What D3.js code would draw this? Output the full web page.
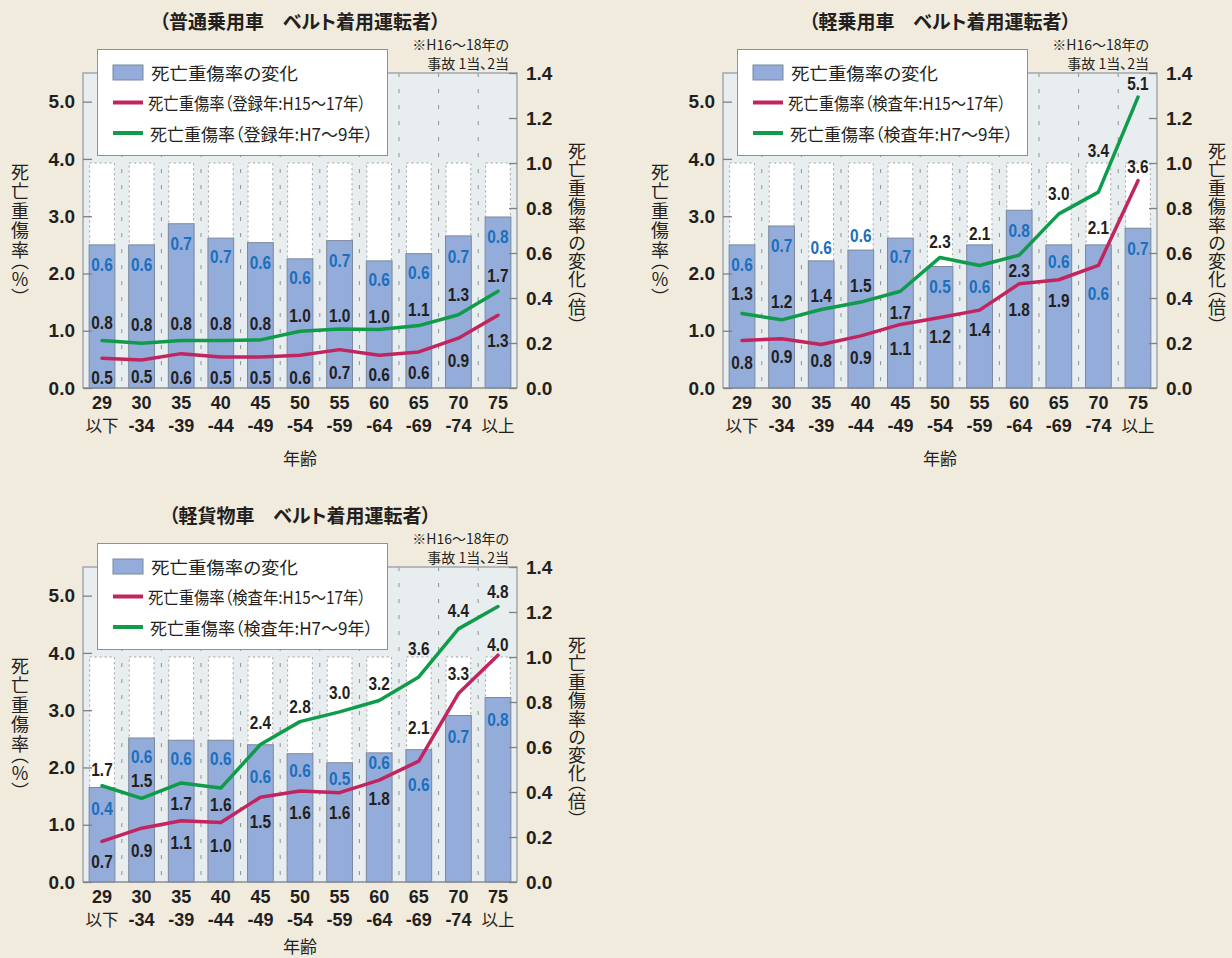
<!DOCTYPE html>
<html><head><meta charset="utf-8">
<script src="https://cdn.jsdelivr.net/npm/d3@7"></script>
<style>
html,body{margin:0;padding:0;background:#f1ebdd;}
svg{display:block;}
.jp{font-family:"Noto Sans CJK JP","Noto Sans CJK SC",sans-serif;font-feature-settings:"palt";}
.num{font-family:"Liberation Sans",Arial,sans-serif;font-weight:700;}
.vt{font-family:"Noto Sans CJK JP","Noto Sans CJK SC",sans-serif;writing-mode:vertical-rl;font-feature-settings:"vpal";}
</style></head><body>
<svg id="chart" width="1232" height="958"></svg>
<script>
// ---------- shared data ----------
const categories = ["29","30","35","40","45","50","55","60","65","70","75"];
const categorySub = ["以下","-34","-39","-44","-49","-54","-59","-64","-69","-74","以上"];
const leftTicks = [0,1,2,3,4,5];
const rightTicks = [0,0.2,0.4,0.6,0.8,1.0,1.2,1.4];
const leftDomain = [0,5.5];
const rightDomain = [0,1.4];
const ratioReference = 1.0;
const xTitle = "年齢";
const leftTitle = "死亡重傷率（％）";
const rightTitle = "死亡重傷率の変化（倍）";
const noteLines = ["※H16〜18年の","事故 1当、2当"];
const legendBar = "死亡重傷率の変化";

// ---------- panel 1: 普通乗用車 ----------
const p1Title = "（普通乗用車　ベルト着用運転者）";
const p1LegendRed = "死亡重傷率（登録年:H15〜17年）";
const p1LegendGreen = "死亡重傷率（登録年:H7〜9年）";
const p1Ratio = [0.636,0.636,0.73,0.666,0.646,0.574,0.655,0.565,0.597,0.676,0.76];
const p1Red   = [0.52,0.49,0.60,0.54,0.54,0.57,0.67,0.57,0.63,0.87,1.27];
const p1Green = [0.83,0.78,0.83,0.83,0.84,0.99,1.03,1.02,1.09,1.28,1.69];

// ---------- panel 2: 軽乗用車 ----------
const p2Title = "（軽乗用車　ベルト着用運転者）";
const p2LegendRed = "死亡重傷率（検査年:H15〜17年）";
const p2LegendGreen = "死亡重傷率（検査年:H7〜9年）";
const p2Ratio = [0.636,0.72,0.565,0.613,0.666,0.54,0.636,0.79,0.636,0.636,0.71];
const p2Red   = [0.83,0.86,0.76,0.91,1.11,1.23,1.36,1.82,1.89,2.14,3.62];
const p2Green = [1.30,1.19,1.37,1.50,1.69,2.28,2.14,2.32,3.04,3.42,5.08];

// ---------- panel 3: 軽貨物車 ----------
const p3Title = "（軽貨物車　ベルト着用運転者）";
const p3LegendRed = "死亡重傷率（検査年:H15〜17年）";
const p3LegendGreen = "死亡重傷率（検査年:H7〜9年）";
const p3Ratio = [0.42,0.64,0.63,0.63,0.61,0.57,0.53,0.574,0.588,0.74,0.82];
const p3Red   = [0.71,0.94,1.07,1.04,1.48,1.59,1.56,1.78,2.11,3.29,3.96];
const p3Green = [1.68,1.46,1.73,1.64,2.40,2.80,2.97,3.17,3.58,4.42,4.81];

// ---------- label placement (pixel offsets from mark) ----------
const p1BlueDy  = [20,20,20,19,20,19,20,19,19,21,20];
const p1GreenDy = [-18,-19,-17,-17,-16,-16,-13,-13,-16,-20,-16];
const p1RedDy   = [19,17,24,21,21,22,23,19,21,23,25];
const p2BlueDy  = [20,20,-13,-14,19,20,42,20,17,49,20];
const p2GreenDy = [-20,-18,-14,-16,21,-16,-32,16,-20,-41,-13];
const p2RedDy   = [22,18,16,22,24,19,20,26,21,-38,-14];
const p3BlueDy  = [21,19,18,18,32,17,16,10,35,21,22];
const p3GreenDy = [-16,-18,21,17,-22,-15,-19,-17,-28,-18,-15];
const p3RedDy   = [20,23,22,23,24,22,20,19,-33,-20,-11];

// ---------- styles ----------
const C = {
  bg:"#f1ebdd", plot:"#e8edef", frame:"#a2a6a9", bar:"#94acd9", barStroke:"#7b889b",
  red:"#c2245f", green:"#0e9c4a", blueText:"#1a6fbe", text:"#231f20", dash:"#8d9193"
};
const M = {left:83, right:517, top:73, bottom:388};

const svg = d3.select("#chart");
svg.append("rect").attr("width",1232).attr("height",958).attr("fill",C.bg);

const panels = [
  {dx:0,dy:0,xt:457,title:p1Title,lr:p1LegendRed,lg:p1LegendGreen,bars:p1Ratio,red:p1Red,green:p1Green,bDy:p1BlueDy,rDy:p1RedDy,gDy:p1GreenDy},
  {dx:640,dy:0,xt:457,title:p2Title,lr:p2LegendRed,lg:p2LegendGreen,bars:p2Ratio,red:p2Red,green:p2Green,bDy:p2BlueDy,rDy:p2RedDy,gDy:p2GreenDy},
  {dx:0,dy:494,xt:451,title:p3Title,lr:p3LegendRed,lg:p3LegendGreen,bars:p3Ratio,red:p3Red,green:p3Green,bDy:p3BlueDy,rDy:p3RedDy,gDy:p3GreenDy}
];

function drawPanel(p){
  const g = svg.append("g").attr("transform",`translate(${p.dx},${p.dy})`);
  const x = d3.scaleBand().domain(categories).range([M.left,M.right]).paddingInner(0.35).paddingOuter(0.155);
  const yL = d3.scaleLinear().domain(leftDomain).range([M.bottom,M.top]);
  const yR = d3.scaleLinear().domain(rightDomain).range([M.bottom,M.top]);
  const bw = x.bandwidth();
  const cx = i => x(categories[i]) + bw/2;

  // plot background
  g.append("rect").attr("x",M.left).attr("y",M.top).attr("width",M.right-M.left).attr("height",M.bottom-M.top).attr("fill",C.plot);
  // dashed separators in gaps
  const gap = x.step()*x.paddingInner();
  g.selectAll(".gap").data(categories.slice(1)).join("line")
    .attr("x1",d=>x(d)-gap/2).attr("x2",d=>x(d)-gap/2)
    .attr("y1",M.top).attr("y2",M.bottom)
    .attr("stroke",C.dash).attr("stroke-width",1).attr("stroke-dasharray","4,12");
  // white reference boxes (ratio 1.0)
  g.selectAll(".box").data(categories).join("rect")
    .attr("x",d=>x(d)+0.5).attr("y",yR(ratioReference)).attr("width",bw-1).attr("height",yR(0)-yR(ratioReference))
    .attr("fill","#fff").attr("stroke","#a0a0a0").attr("stroke-width",1).attr("stroke-dasharray","2,3");
  // bars (ratio on right axis)
  g.selectAll(".bar").data(p.bars).join("rect")
    .attr("x",(d,i)=>x(categories[i])).attr("y",d=>yR(d)).attr("width",bw).attr("height",d=>yR(0)-yR(d))
    .attr("fill",C.bar).attr("stroke",C.barStroke).attr("stroke-width",1);

  // frame
  g.append("path").attr("d",`M${M.left},${M.bottom}V${M.top}H${M.right}V${M.bottom}`)
    .attr("fill","none").attr("stroke",C.frame).attr("stroke-width",1.5);
  g.append("line").attr("x1",M.left).attr("x2",M.right).attr("y1",M.bottom).attr("y2",M.bottom)
    .attr("stroke","#8a8d90").attr("stroke-width",1.5);

  // lines
  const line = d3.line().x((d,i)=>cx(i)).y(d=>yL(d));
  g.append("path").datum(p.red).attr("d",line).attr("fill","none").attr("stroke",C.red).attr("stroke-width",3.5).attr("stroke-linejoin","round").attr("stroke-linecap","round");
  g.append("path").datum(p.green).attr("d",line).attr("fill","none").attr("stroke",C.green).attr("stroke-width",3.5).attr("stroke-linejoin","round").attr("stroke-linecap","round");

  const fmt = d3.format(".1f");
  const fs = 17.5, sx = 0.88;
  function labels(data, yScale, dys, color){
    g.append("g").selectAll("text").data(data).join("text").attr("class","num")
      .attr("transform",(d,i)=>`translate(${cx(i)},${yScale(d)+dys[i]+fs*0.36}) scale(${sx},1)`)
      .attr("text-anchor","middle").attr("font-size",fs).attr("fill",color).text(d=>fmt(d));
  }
  labels(p.bars, yR, p.bDy, C.blueText);
  labels(p.green, yL, p.gDy, C.text);
  labels(p.red, yL, p.rDy, C.text);

  // left axis
  const la = g.append("g").attr("transform",`translate(${M.left},0)`)
    .call(d3.axisLeft(yL).tickValues(leftTicks).tickFormat(fmt).tickSizeInner(-9).tickSizeOuter(0).tickPadding(8));
  la.select(".domain").remove();
  la.selectAll(".tick line").attr("stroke","#7d8184").attr("stroke-width",1.3);
  la.selectAll(".tick text").attr("class","num").attr("font-size",19).attr("fill",C.text).attr("font-family",null);
  // right axis
  const ra = g.append("g").attr("transform",`translate(${M.right},0)`)
    .call(d3.axisRight(yR).tickValues(rightTicks).tickFormat(fmt).tickSizeInner(-8).tickSizeOuter(0).tickPadding(9));
  ra.select(".domain").remove();
  ra.selectAll(".tick line").attr("stroke","#7d8184").attr("stroke-width",1.3);
  ra.selectAll(".tick text").attr("class","num").attr("font-size",19).attr("fill",C.text).attr("font-family",null);

  // x labels
  g.selectAll(".xl1").data(categories).join("text").attr("class","num")
    .attr("x",d=>x(d)+bw/2).attr("y",409).attr("text-anchor","middle").attr("font-size",18).attr("fill",C.text).text(d=>d);
  g.selectAll(".xl2").data(categorySub).join("text")
    .attr("class",d=>/^-/.test(d)?"num":"jp")
    .attr("x",(d,i)=>cx(i)).attr("y",432).attr("text-anchor","middle")
    .attr("font-size",d=>/^-/.test(d)?18:16.5).attr("fill",C.text).text(d=>d);
  g.append("text").attr("class","jp").attr("x",(M.left+M.right)/2).attr("y",p.xt).attr("dominant-baseline","central")
    .attr("text-anchor","middle").attr("font-size",17).attr("fill",C.text).text(xTitle);

  // axis titles (vertical)
  g.append("text").attr("class","vt").attr("x",20).attr("y",163)
    .attr("font-size",18).attr("letter-spacing",1.5).attr("fill",C.text).text(leftTitle);
  g.append("text").attr("class","vt").attr("x",577).attr("y",142)
    .attr("font-size",18).attr("letter-spacing",0.5).attr("fill",C.text).text(rightTitle);

  // title
  g.append("text").attr("class","jp").attr("x",300).attr("y",20).attr("dominant-baseline","central")
    .attr("text-anchor","middle").attr("font-size",19).attr("font-weight",700).attr("fill",C.text).text(p.title);
  // note
  g.selectAll(".note").data(noteLines).join("text").attr("class","jp")
    .attr("x",509).attr("y",(d,i)=>44+i*18.5).attr("dominant-baseline","central")
    .attr("text-anchor","end").attr("font-size",14).attr("fill",C.text).text(d=>d);

  // legend
  const lg = g.append("g");
  lg.append("rect").attr("x",97.5).attr("y",49.5).attr("width",290).attr("height",106)
    .attr("fill","#fff").attr("stroke","#8f9193").attr("stroke-width",1);
  lg.append("rect").attr("x",113).attr("y",65).attr("width",30).attr("height",15)
    .attr("fill",C.bar).attr("stroke",C.barStroke);
  lg.append("line").attr("x1",113).attr("x2",143).attr("y1",102.5).attr("y2",102.5).attr("stroke",C.red).attr("stroke-width",4);
  lg.append("line").attr("x1",113).attr("x2",143).attr("y1",133).attr("y2",133).attr("stroke",C.green).attr("stroke-width",4);
  const items = [[legendBar,72.5,151,147],[p.lr,102.5,148,218],[p.lg,133,150,223]];
  lg.selectAll(".lt").data(items).join("text").attr("class","jp")
    .attr("x",d=>d[2]).attr("y",d=>d[1]).attr("dominant-baseline","central")
    .attr("textLength",d=>d[3]).attr("lengthAdjust","spacingAndGlyphs")
    .attr("font-size",17.5).attr("fill",C.text).text(d=>d[0]);
}
panels.forEach(drawPanel);
</script>
</body></html>
